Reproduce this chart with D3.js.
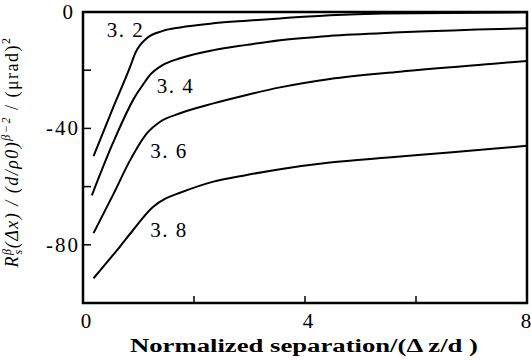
<!DOCTYPE html>
<html>
<head>
<meta charset="utf-8">
<script src="https://cdn.jsdelivr.net/npm/d3@7"></script>
<style>
  body { margin: 0; background: #fff; }
  svg { display: block; }
  text { font-family: "Liberation Serif", "DejaVu Serif", serif; fill: #000; }
</style>
</head>
<body>
<svg id="chart" width="531" height="360"></svg>
<script>
    'use strict';

    // curve parameter (label) for each series
    var curveLabels = ["3. 2", "3. 4", "3. 6", "3. 8"];

    // values, [separation, value]
    var curve32 = [[0.19, -49.5], [0.55, -32.5], [0.85, -18.8], [0.94, -14.2], [1.15, -9], [1.44, -6.5],
        [1.75, -5.3], [2.35, -3.9], [2.95, -3], [3.55, -2.2], [4.45, -1.1], [5.4, -0.5], [8, -0.1]];
    var curve34 = [[0.16, -63], [0.54, -45], [0.94, -29], [1.08, -25], [1.2, -21.8], [1.44, -18.2],
        [1.75, -15.9], [2.35, -13.1], [2.95, -11.3], [3.55, -9.7], [4.45, -8.2], [5.71, -7],
        [7.5, -5.8], [8, -5.6]];
    var curve36 = [[0.19, -76], [0.55, -62.5], [0.85, -50.9], [1.15, -41.7], [1.39, -37.7], [1.75, -34.8],
        [2.35, -31.4], [2.95, -28.5], [3.55, -25.9], [4.45, -23], [5.71, -20.5], [7.5, -17.6], [8, -16.8]];
    var curve38 = [[0.19, -91.5], [0.67, -80.5], [0.9, -75], [1.26, -67], [1.5, -64], [1.75, -62.1],
        [2.35, -58.3], [2.95, -56], [3.55, -54], [4.45, -51.7], [5.5, -50], [6.6, -48.3], [8, -46]];

    var series = [curve32, curve34, curve36, curve38];

    // where each label sits, in data units [x, y]
    var labelPos = [[0.43, -8.6], [1.33, -27.8], [1.21, -50.2], [1.21, -77.3]];

    var xTicks = [0, 2, 4, 6, 8];
    var xTickLabels = [0, 4, 8];
    var yTicks = [0, -20, -40, -60, -80];
    var yTickLabels = [0, -40, -80];

    var margin = { top: 12, right: 4, bottom: 57, left: 83 };
    var svg = d3.select('#chart');
    var width = +svg.attr('width') - margin.left - margin.right;
    var height = +svg.attr('height') - margin.top - margin.bottom;

    var x = d3.scaleLinear().domain([0, 8]).range([0, width]);
    var y = d3.scaleLinear().domain([-100, 0]).range([height, 0]);

    var g = svg.append('g').attr('transform', 'translate(' + margin.left + ',' + margin.top + ')');

    // inward ticks
    g.selectAll('.xtick').data(xTicks).enter().append('line')
        .attr('x1', function(d) { return x(d); })
        .attr('x2', function(d) { return x(d); })
        .attr('y1', height)
        .attr('y2', height - 7)
        .attr('stroke', '#000')
        .attr('stroke-width', 1.5);

    g.selectAll('.ytick').data(yTicks).enter().append('line')
        .attr('x1', 0)
        .attr('x2', 8)
        .attr('y1', function(d) { return y(d); })
        .attr('y2', function(d) { return y(d); })
        .attr('stroke', '#000')
        .attr('stroke-width', 1.5);

    g.selectAll('.xlab').data(xTickLabels).enter().append('text')
        .attr('x', function(d) { return d === 8 ? x(d) - 1 : x(d) + 3; })
        .attr('y', height + 25)
        .attr('text-anchor', 'middle')
        .style('font-size', '21px')
        .text(function(d) { return d; });

    g.selectAll('.ylab').data(yTickLabels).enter().append('text')
        .attr('x', function(d) { return d === 0 ? -8 : -3; })
        .attr('y', function(d) { return y(d) + (d === 0 ? 7 : 7); })
        .attr('text-anchor', 'end')
        .style('font-size', '21px')
        .style('letter-spacing', '2px')
        .text(function(d) { return d === 0 ? '0' : '-' + Math.abs(d); });

    var line = d3.line()
        .x(function(d) { return x(d[0]); })
        .y(function(d) { return y(d[1]); })
        .curve(d3.curveMonotoneX);

    g.selectAll('.curve').data(series).enter().append('path')
        .attr('d', line)
        .attr('fill', 'none')
        .attr('stroke', '#000')
        .attr('stroke-width', 2);

    g.selectAll('.clab').data(curveLabels).enter().append('text')
        .attr('x', function(d, i) { return x(labelPos[i][0]); })
        .attr('y', function(d, i) { return y(labelPos[i][1]); })
        .style('font-size', '21px')
        .style('letter-spacing', '1.5px')
        .text(function(d) { return d; });

    // frame
    g.append('rect')
        .attr('width', width)
        .attr('height', height)
        .attr('fill', 'none')
        .attr('stroke', '#000')
        .attr('stroke-width', 2.5);

    svg.append('text')
        .attr('x', 130)
        .attr('y', 352)
        .attr('textLength', 348)
        .attr('lengthAdjust', 'spacingAndGlyphs')
        .style('font-size', '18px')
        .style('font-weight', 'bold')
        .text('Normalized separation/(\u0394 z/d )');

    var yt = svg.append('text')
        .attr('transform', 'translate(18,152) rotate(-90)')
        .attr('text-anchor', 'middle')
        .style('font-size', '18px')
        .style('letter-spacing', '1.5px')
        .style('font-style', 'italic');
    yt.append('tspan').text('R');
    yt.append('tspan').attr('dy', -7).style('font-size', '12px').text('\u03b2');
    yt.append('tspan').attr('dx', -7).attr('dy', 11).style('font-size', '12px').text('s');
    yt.append('tspan').attr('dy', -4).text('(\u0394x) / (d/\u03c10)');
    yt.append('tspan').attr('dy', -8).style('font-size', '12px').text('\u03b2\u22122');
    yt.append('tspan').attr('dy', 8).style('font-style', 'normal').text(' / (\u03bcrad)');
    yt.append('tspan').attr('dy', -8).style('font-size', '12px').style('font-style', 'normal').text('2');
</script>
</body>
</html>
